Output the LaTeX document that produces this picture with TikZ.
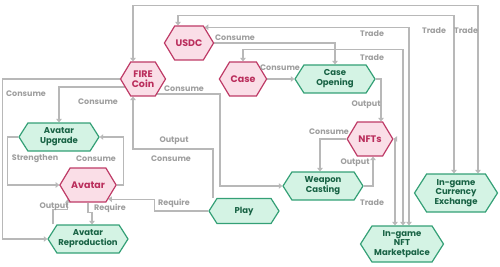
\documentclass[tikz,border=0pt]{standalone}
\usepackage{fontspec}
\setmainfont{Poppins}
\usetikzlibrary{arrows.meta, shapes.symbols, backgrounds}
\definecolor{coinfill}{RGB}{250,222,231}
\definecolor{coinline}{RGB}{190,58,102}
\definecolor{cointext}{RGB}{186,46,92}
\definecolor{actfill}{RGB}{212,243,228}
\definecolor{actline}{RGB}{52,160,118}
\definecolor{acttext}{RGB}{24,98,68}
\definecolor{wire}{RGB}{184,184,184}
\definecolor{wiretext}{RGB}{158,158,158}

\begin{document}
\begin{tikzpicture}[x=1pt, y=-1pt,
  coin/.style={shape=signal, signal to=east and west, signal pointer angle=118,
               draw=coinline, fill=coinfill, line width=1.2pt, text=cointext,
               align=center, font=\bfseries\fontsize{9.5}{10.5}\selectfont,
               minimum width=45pt, minimum height=34pt, inner sep=1pt},
  act/.style={shape=signal, signal to=east and west, signal pointer angle=115,
              draw=actline, fill=actfill, line width=1.2pt, text=acttext,
              align=center, font=\bfseries\fontsize{8.5}{9.8}\selectfont,
              minimum width=80pt, minimum height=28pt, inner sep=1pt},
  link/.style={draw=wire, line width=1.2pt, -{Triangle[length=3.5pt,width=5.5pt]}},
  trade/.style={link, {Triangle[length=3.5pt,width=5.5pt]}-{Triangle[length=3.5pt,width=5.5pt]}},
  lbl/.style={font=\bfseries\fontsize{8}{9}\selectfont, text=wiretext, inner sep=0pt},
]
\useasboundingbox (0,0) rectangle (500,267);

% tokens
\node[coin] (usdc)   at (189,43)  {USDC};
\node[coin] (fire)   at (143,79)  {FIRE\\Coin};
\node[coin] (case)   at (243,79)  {Case};
\node[coin] (nfts)   at (370,139) {NFTs};
\node[coin] (avatar) at (88,185)  {Avatar};

% actions
\node[act] (caseop) at (335,79)  {Case\\Opening};
\node[act] (upg)    at (59,137)  {Avatar\\Upgrade};
\node[act] (weapon) at (323,186) {Weapon\\Casting};
\node[act, minimum width=70pt, minimum height=25pt] (play) at (244,211) {Play};
\node[act] (repro)  at (88,239)  {Avatar\\Reproduction};
\node[act, minimum width=83pt, minimum height=36pt] (market) at (402,244) {In-game\\NFT\\Marketpalce};
\node[act, minimum width=83pt, minimum height=38pt] (exch)   at (456,193) {In-game\\Currency\\Exchange};

\begin{scope}[on background layer]
  % trade
  \draw[trade] ([xshift=-10pt]fire.north) -- ++(0,-56) -| ([xshift=22pt]exch.north);
  \draw[trade] ([xshift=-11pt]usdc.north) -- ++(0,-10) -| ([xshift=-2pt]exch.north);
  \draw[trade] (usdc.45) -| ([xshift=7pt]market.north);
  \draw[trade] (case.north) -- ++(0,-12) -| ([xshift=1pt]market.north);
  \draw[trade] (nfts.east) -| ([xshift=-7pt]market.north);
  % case and nft flow
  \draw[link] (usdc.east) -| (caseop.north);
  \draw[link] (case.east) -- (caseop.west);
  \draw[link] (caseop.east) -| ([xshift=11pt]nfts.north);
  \draw[link] (nfts.west) -| ([xshift=-3pt]weapon.north);
  \draw[link] (weapon.east) -| ([xshift=3pt]nfts.south);
  % fire coin
  \draw[link] (fire.west) -- ++(-117,0) |- (repro.west);
  \draw[link] ([yshift=-8pt]fire.center) -| (upg.north);
  \draw[link] ([yshift=-15pt]fire.center) -- ++(77,0) |- (weapon.west);
  \draw[link] ([xshift=-31pt]play.north) -- ++(0,-49) -| ([xshift=-10pt]fire.south);
  % avatar
  \draw[link] (play.west) -- ++(-54,0) |- (avatar.-35);
  \draw[link] (upg.west) -- ++(-11,0) |- (avatar.west);
  \draw[link] (avatar.east) -- ++(7,0) |- (upg.east);
  \draw[link] (avatar.south) -- ++(0,10) -| ([xshift=4pt]repro.north);
  \draw[link] ([xshift=-35pt]repro.north) -- ++(0,-15) -| (avatar.215);
\end{scope}

% labels
\node[lbl] (l1)  at (466,31)  {Trade};
\node[lbl] (l2)  at (434,31)  {Trade};
\node[lbl] (l3)  at (372,34)  {Trade};
\node[lbl] (l4)  at (372,58)  {Trade};
\node[lbl] (l5)  at (372,203) {Trade};
\node[lbl] (l6)  at (235,38)  {Consume};
\node[lbl] (l7)  at (280,68)  {Consume};
\node[lbl] (l8)  at (366,105) {Output};
\node[lbl] (l9)  at (329,132) {Consume};
\node[lbl] (l10) at (355,163) {Output};
\node[lbl] (l11) at (26,94)   {Consume};
\node[lbl] (l12) at (98,102)  {Consume};
\node[lbl] (l13) at (184,89)  {Consume};
\node[lbl] (l14) at (174,141) {Output};
\node[lbl] (l15) at (171,159) {Consume};
\node[lbl] (l16) at (35,159)  {Strengthen};
\node[lbl] (l17) at (96,159)  {Consume};
\node[lbl] (l18) at (54,207)  {Output};
\node[lbl] (l19) at (110,208) {Require};
\node[lbl] (l20) at (174,203) {Require};
\end{tikzpicture}
\end{document}
